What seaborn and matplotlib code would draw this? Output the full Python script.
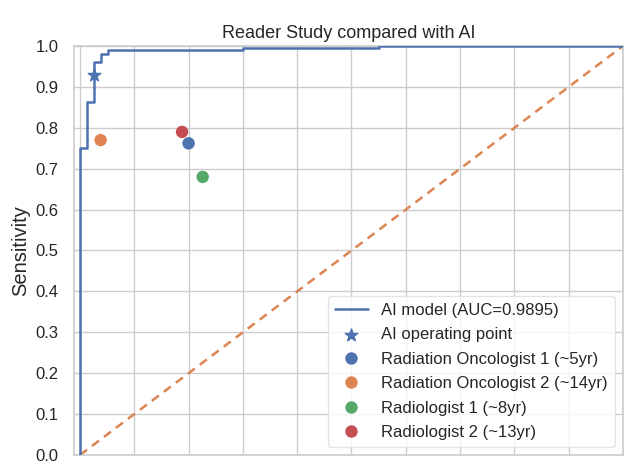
import matplotlib
matplotlib.use("Agg")
import matplotlib.pyplot as plt
import seaborn as sns
import pandas as pd

# ROC curve of the AI model (step points)
roc_fpr = [0.0, 0.0, 0.013, 0.013, 0.025, 0.025, 0.038, 0.038, 0.052, 0.052, 0.30, 0.30, 0.55, 0.55, 1.0]
roc_tpr = [0.0, 0.751, 0.751, 0.862, 0.862, 0.96, 0.96, 0.98, 0.98, 0.991, 0.991, 0.995, 0.995, 1.0, 1.0]
auc_label = "AI model (AUC=0.9895)"

# AI operating point
op_fpr = [0.025]
op_tpr = [0.929]

# Readers
readers = ["Radiation Oncologist 1 (~5yr)", "Radiation Oncologist 2 (~14yr)",
           "Radiologist 1 (~8yr)", "Radiologist 2 (~13yr)"]
reader_fpr = [0.200, 0.038, 0.226, 0.188]
reader_tpr = [0.762, 0.770, 0.680, 0.790]

sns.set_theme(style="whitegrid")
plt.rcParams['font.family'] = ['Liberation Sans', 'DejaVu Sans']

pal = sns.color_palette("deep")

fig = plt.figure(figsize=(6.4, 4.61), dpi=100)
W, H = 640, 461
ax = fig.add_axes([74 / W, 1 - 455 / H, (623 - 74) / W, (455 - 46) / H])

roc_df = pd.DataFrame({"fpr": roc_fpr, "tpr": roc_tpr})
ax.plot(roc_df["fpr"], roc_df["tpr"], color=pal[0], lw=1.8, label=auc_label, zorder=3)
ax.plot([0, 1], [0, 1], color=pal[1], lw=1.8, ls=(0, (3.5, 2.5)), zorder=2)
ax.scatter(op_fpr, op_tpr, marker="*", s=90, color=pal[0], label="AI operating point", zorder=4)

rd = pd.DataFrame({"reader": readers, "fpr": reader_fpr, "tpr": reader_tpr})
sns.scatterplot(data=rd, x="fpr", y="tpr", hue="reader", palette=pal[:4], s=80,
                edgecolor="none", ax=ax, zorder=4)

ax.set_xlim(-0.011, 1.0)
ax.set_ylim(0.0, 1.0)
ax.set_xticks([i / 10 for i in range(0, 11)])
ax.set_yticks([i / 10 for i in range(0, 11)])
ax.set_yticklabels([f"{i / 10:.1f}" for i in range(0, 11)], fontsize=12)
ax.set_xticklabels([])
ax.set_xlabel("")
ax.set_ylabel("Sensitivity", fontsize=14.5, color="#262626")
ax.yaxis.set_label_coords(-0.08, 0.5)
ax.tick_params(axis="y", pad=5)
ax.set_title("Reader Study compared with AI", fontsize=13, color="#262626", pad=6)
for s in ax.spines.values():
    s.set_color("#cccccc")
    s.set_linewidth(1.2)

leg = ax.legend(loc="lower right", fontsize=12, frameon=True, handletextpad=0.8,
                borderaxespad=0.5, labelspacing=0.57, bbox_to_anchor=(1.0, 0.0))
leg.get_frame().set_edgecolor("#dddddd")

fig.savefig("out.png", dpi=100)
